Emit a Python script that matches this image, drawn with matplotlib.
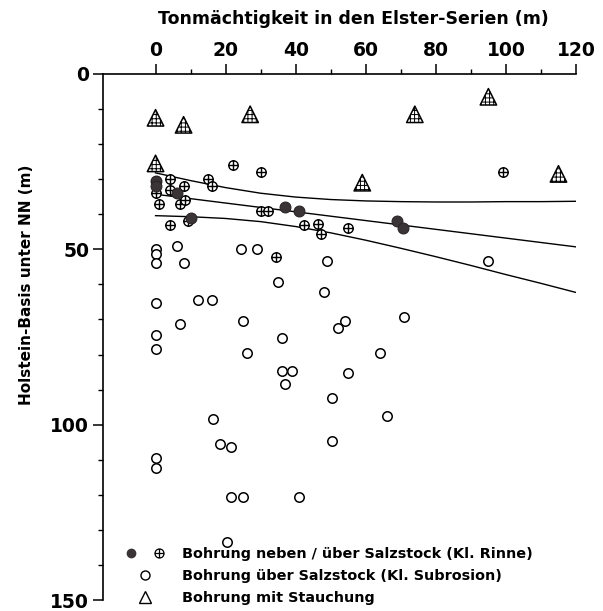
import matplotlib.pyplot as plt
from matplotlib.lines import Line2D
from matplotlib.path import Path
from matplotlib.legend_handler import HandlerTuple

plt.rcParams['font.family'] = ['DejaVu Sans']
plt.rcParams['font.weight'] = 'bold'
plt.rcParams['hatch.linewidth'] = 0.7

# Bohrung neben Salzstock (Kl. Rinne) - filled
rinne_x = [0, 0, 6, 10, 37, 41, 69, 70.5]
rinne_y = [30.5, 32, 34, 41, 38, 39, 42, 44]

# Bohrung ueber Salzstock (Kl. Rinne) - circle with cross
cross_x = [0, 0, 1, 4, 4, 8, 7, 8.3, 4, 9.2, 15, 16.2, 22, 30.2, 30, 32.1,
           42.3, 46.4, 47.1, 55, 34.3, 99.2]
cross_y = [30.5, 34, 37, 30, 33, 32, 37, 36, 43, 42, 30, 32, 26, 28, 39, 39,
           43, 42.7, 45.7, 44, 52.2, 28]

# Bohrung ueber Salzstock (Kl. Subrosion) - open circle
subr_x = [0, 0, 0, 6, 8, 24.5, 29, 35, 49, 48, 0, 12, 16, 7, 25, 36, 0, 0,
          26, 36, 39, 37, 54, 52, 55, 50.5, 95, 71, 64, 66, 50.5, 16.5, 18.5,
          21.5, 0, 0, 21.5, 25, 41, 20.5]
subr_y = [50, 51.2, 54, 49, 54, 50, 50, 59.3, 53.2, 62.3, 65.2, 64.4, 64.4,
          71.4, 70.3, 75.3, 74.4, 78.4, 79.5, 84.6, 84.6, 88.4, 70.3, 72.4,
          85.4, 92.3, 53.3, 69.3, 79.5, 97.4, 104.6, 98.4, 105.5, 106.5,
          109.5, 112.5, 120.6, 120.6, 120.6, 133.4]

# Bohrung mit Stauchung - hatched triangles
stauch_x = [0, 8, 27, 0, 59, 74, 95, 115]
stauch_y = [12.5, 14.5, 11.5, 25.5, 31, 11.5, 6.5, 28.5]

# regression line with confidence band
fit_x = [0, 10, 20, 30, 40, 50, 60, 70, 80, 90, 100, 110, 120]
fit_mid = [34.3, 35.55, 36.8, 38.05, 39.3, 40.55, 41.8, 43.05, 44.3, 45.55,
           46.8, 48.05, 49.3]
fit_upper = [28.2, 30.4, 32.4, 34.0, 35.1, 35.8, 36.2, 36.4, 36.5, 36.5,
             36.4, 36.4, 36.3]
fit_lower = [40.4, 40.7, 41.2, 42.1, 43.5, 45.3, 47.4, 49.7, 52.1, 54.6,
             57.2, 59.7, 62.3]

# circle with a cross inside, as one marker
plus = Path([(-1, 0), (1, 0), (0, -1), (0, 1)],
            [Path.MOVETO, Path.LINETO, Path.MOVETO, Path.LINETO])
oplus = Path.make_compound_path(Path.unit_circle(), plus)

fig = plt.figure(figsize=(6.03, 6.11), dpi=100)
ax = fig.add_axes([0.1708, 0.018, 0.7844, 0.8609])

for fy in (fit_mid, fit_upper, fit_lower):
    ax.plot(fit_x, fy, color='black', lw=1.0, zorder=2)

ax.plot(subr_x, subr_y, ls='none', marker='o', ms=6.8, mfc='white',
        mec='black', mew=1.1, zorder=3)
ax.plot(cross_x, cross_y, ls='none', marker=oplus, ms=6.8, mfc='white',
        mec='black', mew=1.0, zorder=3)
ax.plot(rinne_x, rinne_y, ls='none', marker='o', ms=7.8, mfc='#3b3436',
        mec='#2a2426', mew=0.8, zorder=4)
ax.scatter(stauch_x, stauch_y, marker='^', s=140, facecolors='white',
           edgecolors='black', linewidths=1.1, hatch='++++', zorder=5)

ax.set_xlim(-15, 120)
ax.set_ylim(150, 0)

ax.spines['right'].set_visible(False)
ax.spines['bottom'].set_visible(False)
ax.spines['top'].set_linewidth(1.2)
ax.spines['left'].set_linewidth(1.2)

ax.xaxis.tick_top()
ax.xaxis.set_label_position('top')
ax.set_xticks([0, 20, 40, 60, 80, 100, 120])
ax.set_xticks([10, 30, 50, 70, 90, 110], minor=True)
ax.set_yticks([0, 50, 100, 150])
ax.set_yticks([10, 20, 30, 40, 60, 70, 80, 90, 110, 120, 130, 140], minor=True)
ax.tick_params(which='major', length=7, width=1.1, direction='out',
               labelsize=13.5, pad=3)
ax.tick_params(which='minor', length=3.5, width=1.0, direction='out')

ax.set_xlabel('Tonmächtigkeit in den Elster-Serien (m)', fontsize=12.5,
              fontweight='bold', labelpad=12)
ax.xaxis.label.set_x(0.53)
ax.set_ylabel('Holstein-Basis unter NN (m)', fontsize=11, fontweight='bold',
              labelpad=12)
ax.yaxis.label.set_y(0.6)

h_fill = Line2D([], [], ls='none', marker='o', ms=6, mfc='#3b3436', mec='#3b3436')
h_cross = Line2D([], [], ls='none', marker=oplus, ms=6.5, mfc='white', mec='black', mew=0.9)
h_open = Line2D([], [], ls='none', marker='o', ms=6.5, mfc='white', mec='black', mew=1.0)
h_tri = Line2D([], [], ls='none', marker='^', ms=8, mfc='white', mec='black', mew=1.0)

ax.legend([(h_fill, h_cross), h_open, h_tri],
          ['Bohrung neben / über Salzstock (Kl. Rinne)',
           'Bohrung über Salzstock (Kl. Subrosion)',
           'Bohrung mit Stauchung'],
          handler_map={tuple: HandlerTuple(ndivide=None, pad=1.0)},
          loc='lower left', bbox_to_anchor=(0.045, -0.01), frameon=False,
          borderpad=0, borderaxespad=0, handlelength=2.9, handletextpad=1.1,
          labelspacing=0.55, prop={'size': 10.4, 'weight': 'bold'})

plt.savefig('out.png', dpi=100)
plt.close()
